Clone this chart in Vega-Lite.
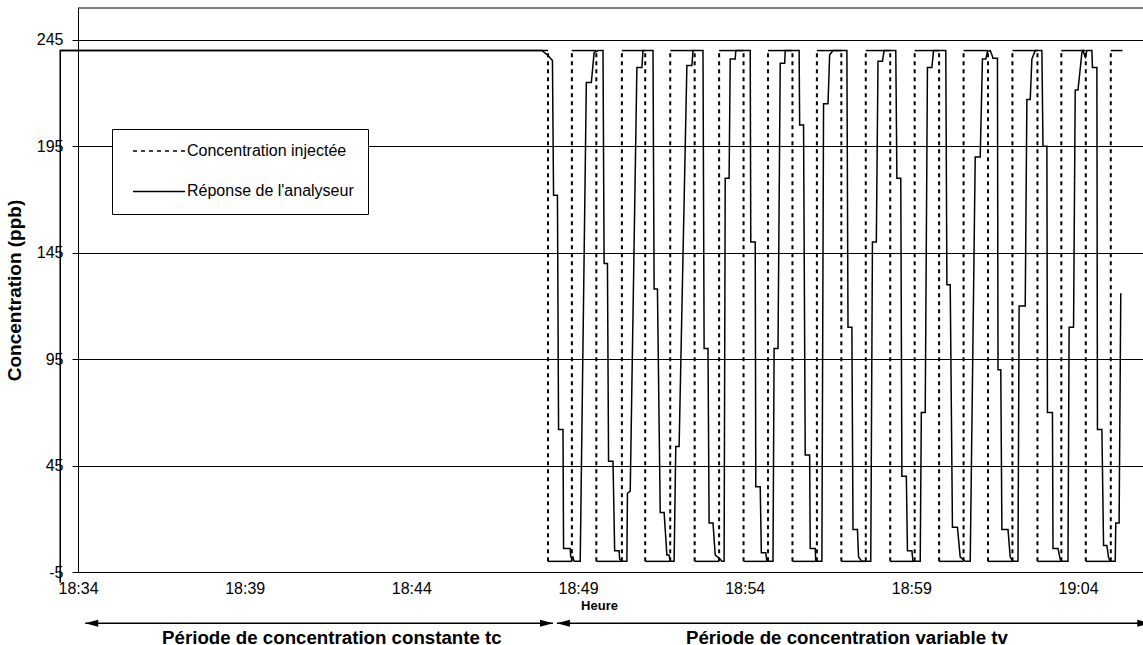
{
  "$schema": "https://vega.github.io/schema/vega-lite/v6.json",
  "width": 1065,
  "height": 564,
  "autosize": {"type": "none"},
  "padding": {"left": 78, "top": 8, "right": 0, "bottom": 73},
  "background": "#ffffff",
  "config": {
    "view": {"stroke": null},
    "font": "Liberation Sans",
    "axis": {"labelFont": "Liberation Sans", "titleFont": "Liberation Sans", "labelColor": "#000", "titleColor": "#000", "domainColor": "#000", "tickColor": "#000", "gridColor": "#000"},
    "legend": {"labelFont": "Liberation Sans"}
  },
  "layer": [
    {
      "data": {"values": [{}]},
      "mark": {"type": "rule", "color": "#000", "strokeWidth": 1},
      "encoding": {"y": {"datum": 260, "type": "quantitative", "scale": {"domain": [-5, 260], "nice": false, "zero": false}}}
    },
    {
      "data": {"values": [
        {"debut":"18:33:28","fin":"18:48:06","niveau":240},
        {"debut":"18:48:06","fin":"18:48:49","niveau":0},
        {"debut":"18:48:49","fin":"18:49:33","niveau":240},
        {"debut":"18:49:33","fin":"18:50:19","niveau":0},
        {"debut":"18:50:19","fin":"18:51:01","niveau":240},
        {"debut":"18:51:01","fin":"18:51:46","niveau":0},
        {"debut":"18:51:46","fin":"18:52:30","niveau":240},
        {"debut":"18:52:30","fin":"18:53:14","niveau":0},
        {"debut":"18:53:14","fin":"18:53:58","niveau":240},
        {"debut":"18:53:58","fin":"18:54:42","niveau":0},
        {"debut":"18:54:42","fin":"18:55:26","niveau":240},
        {"debut":"18:55:26","fin":"18:56:10","niveau":0},
        {"debut":"18:56:10","fin":"18:56:54","niveau":240},
        {"debut":"18:56:54","fin":"18:57:38","niveau":0},
        {"debut":"18:57:38","fin":"18:58:22","niveau":240},
        {"debut":"18:58:22","fin":"18:59:06","niveau":0},
        {"debut":"18:59:06","fin":"18:59:50","niveau":240},
        {"debut":"18:59:50","fin":"19:00:34","niveau":0},
        {"debut":"19:00:34","fin":"19:01:18","niveau":240},
        {"debut":"19:01:18","fin":"19:02:02","niveau":0},
        {"debut":"19:02:02","fin":"19:02:47","niveau":240},
        {"debut":"19:02:47","fin":"19:03:30","niveau":0},
        {"debut":"19:03:30","fin":"19:04:14","niveau":240},
        {"debut":"19:04:14","fin":"19:04:59","niveau":0},
        {"debut":"19:04:59","fin":"19:05:20","niveau":240}
      ], "format": {"parse": {"debut": "date:'%H:%M:%S'", "fin": "date:'%H:%M:%S'", "niveau": "number"}}},
      "layer": [
        {
          "mark": {"type": "rule", "color": "#000", "strokeWidth": 1.5},
          "encoding": {
            "x": {"field": "debut", "type": "temporal",
              "scale": {"domain": [{"year":1900,"month":1,"date":1,"hours":18,"minutes":34,"seconds":0},{"year":1900,"month":1,"date":1,"hours":19,"minutes":5,"seconds":57}]},
              "axis": {"orient": "bottom", "offset": -10,
                "values": [{"year":1900,"month":1,"date":1,"hours":18,"minutes":34},{"year":1900,"month":1,"date":1,"hours":18,"minutes":39},{"year":1900,"month":1,"date":1,"hours":18,"minutes":44},{"year":1900,"month":1,"date":1,"hours":18,"minutes":49},{"year":1900,"month":1,"date":1,"hours":18,"minutes":54},{"year":1900,"month":1,"date":1,"hours":18,"minutes":59},{"year":1900,"month":1,"date":1,"hours":19,"minutes":4}],
                "labels": false, "ticks": true, "tickSize": 5, "tickWidth": 1, "domain": true, "domainWidth": 1, "grid": false, "title": null}},
            "x2": {"field": "fin"},
            "y": {"field": "niveau", "type": "quantitative", "scale": {"domain": [-5, 260], "nice": false, "zero": false}}
          }
        },
        {
          "transform": [{"filter": "minutes(datum.debut) != 33"}],
          "mark": {"type": "rule", "color": "#000", "strokeWidth": 2},
          "encoding": {
            "x": {"field": "debut", "type": "temporal",
              "scale": {"domain": [{"year":1900,"month":1,"date":1,"hours":18,"minutes":34,"seconds":0},{"year":1900,"month":1,"date":1,"hours":19,"minutes":5,"seconds":57}]},
              "axis": null},
            "y": {"datum": 0, "type": "quantitative", "scale": {"domain": [-5, 260], "nice": false, "zero": false}},
            "y2": {"datum": 240},
            "strokeDash": {"datum": "Concentration injectée", "type": "nominal"}
          }
        }
      ]
    },
    {
      "data": {"values": [
        {"heure":"18:33:28","c":-10},
        {"heure":"18:33:28","c":240},
        {"heure":"18:47:55","c":240},
        {"heure":"18:48:05","c":237.9},
        {"heure":"18:48:14","c":235.3},
        {"heure":"18:48:16","c":172},
        {"heure":"18:48:23","c":172},
        {"heure":"18:48:25","c":62},
        {"heure":"18:48:33","c":62},
        {"heure":"18:48:34","c":6},
        {"heure":"18:48:46","c":6},
        {"heure":"18:48:47","c":2},
        {"heure":"18:48:51","c":2},
        {"heure":"18:48:53","c":0},
        {"heure":"18:49:04","c":0},
        {"heure":"18:49:15","c":225},
        {"heure":"18:49:24","c":225},
        {"heure":"18:49:29","c":239},
        {"heure":"18:49:36","c":240},
        {"heure":"18:49:45","c":240},
        {"heure":"18:49:47","c":140},
        {"heure":"18:49:53","c":140},
        {"heure":"18:49:55","c":47},
        {"heure":"18:50:03","c":47},
        {"heure":"18:50:06","c":5},
        {"heure":"18:50:14","c":5},
        {"heure":"18:50:15","c":1},
        {"heure":"18:50:19","c":0},
        {"heure":"18:50:28","c":0},
        {"heure":"18:50:29","c":32},
        {"heure":"18:50:34","c":33},
        {"heure":"18:50:46","c":232},
        {"heure":"18:50:55","c":232},
        {"heure":"18:50:57","c":240},
        {"heure":"18:51:15","c":240},
        {"heure":"18:51:17","c":128},
        {"heure":"18:51:23","c":128},
        {"heure":"18:51:28","c":23},
        {"heure":"18:51:35","c":23},
        {"heure":"18:51:40","c":3},
        {"heure":"18:51:44","c":3},
        {"heure":"18:51:46","c":0},
        {"heure":"18:51:53","c":0},
        {"heure":"18:51:56","c":54},
        {"heure":"18:52:02","c":54},
        {"heure":"18:52:16","c":233},
        {"heure":"18:52:25","c":233},
        {"heure":"18:52:27","c":240},
        {"heure":"18:52:45","c":240},
        {"heure":"18:52:47","c":100},
        {"heure":"18:52:54","c":100},
        {"heure":"18:52:56","c":18},
        {"heure":"18:53:03","c":18},
        {"heure":"18:53:07","c":3},
        {"heure":"18:53:16","c":1},
        {"heure":"18:53:19","c":0},
        {"heure":"18:53:23","c":0},
        {"heure":"18:53:25","c":180},
        {"heure":"18:53:32","c":180},
        {"heure":"18:53:34","c":236},
        {"heure":"18:53:43","c":236},
        {"heure":"18:53:44","c":240},
        {"heure":"18:54:10","c":240},
        {"heure":"18:54:11","c":150},
        {"heure":"18:54:19","c":150},
        {"heure":"18:54:20","c":35},
        {"heure":"18:54:28","c":35},
        {"heure":"18:54:30","c":4},
        {"heure":"18:54:38","c":4},
        {"heure":"18:54:40","c":0},
        {"heure":"18:54:51","c":0},
        {"heure":"18:54:53","c":100},
        {"heure":"18:55:00","c":100},
        {"heure":"18:55:04","c":234},
        {"heure":"18:55:12","c":234},
        {"heure":"18:55:13","c":240},
        {"heure":"18:55:38","c":240},
        {"heure":"18:55:39","c":205},
        {"heure":"18:55:46","c":205},
        {"heure":"18:55:49","c":50},
        {"heure":"18:55:57","c":50},
        {"heure":"18:55:58","c":6},
        {"heure":"18:56:07","c":6},
        {"heure":"18:56:08","c":0},
        {"heure":"18:56:19","c":0},
        {"heure":"18:56:22","c":215},
        {"heure":"18:56:30","c":215},
        {"heure":"18:56:33","c":238},
        {"heure":"18:56:39","c":240},
        {"heure":"18:57:04","c":240},
        {"heure":"18:57:06","c":110},
        {"heure":"18:57:13","c":110},
        {"heure":"18:57:15","c":15},
        {"heure":"18:57:23","c":15},
        {"heure":"18:57:25","c":2},
        {"heure":"18:57:31","c":0},
        {"heure":"18:57:47","c":0},
        {"heure":"18:57:50","c":150},
        {"heure":"18:57:57","c":150},
        {"heure":"18:58:00","c":235},
        {"heure":"18:58:08","c":235},
        {"heure":"18:58:11","c":240},
        {"heure":"18:58:32","c":240},
        {"heure":"18:58:34","c":180},
        {"heure":"18:58:41","c":180},
        {"heure":"18:58:43","c":40},
        {"heure":"18:58:51","c":40},
        {"heure":"18:58:53","c":5},
        {"heure":"18:59:01","c":5},
        {"heure":"18:59:03","c":0},
        {"heure":"18:59:16","c":0},
        {"heure":"18:59:18","c":70},
        {"heure":"18:59:25","c":70},
        {"heure":"18:59:29","c":232},
        {"heure":"18:59:37","c":232},
        {"heure":"18:59:40","c":240},
        {"heure":"19:00:02","c":240},
        {"heure":"19:00:04","c":130},
        {"heure":"19:00:10","c":130},
        {"heure":"19:00:14","c":16},
        {"heure":"19:00:23","c":16},
        {"heure":"19:00:28","c":2},
        {"heure":"19:00:33","c":1},
        {"heure":"19:00:37","c":0},
        {"heure":"19:00:46","c":0},
        {"heure":"19:00:55","c":190},
        {"heure":"19:01:04","c":190},
        {"heure":"19:01:08","c":236},
        {"heure":"19:01:14","c":236},
        {"heure":"19:01:17","c":239.5},
        {"heure":"19:01:22","c":240},
        {"heure":"19:01:25","c":238},
        {"heure":"19:01:27","c":236.4},
        {"heure":"19:01:35","c":236.4},
        {"heure":"19:01:36","c":90},
        {"heure":"19:01:41","c":90},
        {"heure":"19:01:43","c":15},
        {"heure":"19:01:54","c":15},
        {"heure":"19:01:58","c":2},
        {"heure":"19:02:03","c":0},
        {"heure":"19:02:12","c":0},
        {"heure":"19:02:14","c":120},
        {"heure":"19:02:25","c":120},
        {"heure":"19:02:28","c":217},
        {"heure":"19:02:34","c":217},
        {"heure":"19:02:37","c":236},
        {"heure":"19:02:43","c":240},
        {"heure":"19:02:55","c":240},
        {"heure":"19:02:57","c":195},
        {"heure":"19:03:04","c":195},
        {"heure":"19:03:05","c":70},
        {"heure":"19:03:14","c":70},
        {"heure":"19:03:15","c":6},
        {"heure":"19:03:24","c":6},
        {"heure":"19:03:28","c":1},
        {"heure":"19:03:31","c":0},
        {"heure":"19:03:42","c":0},
        {"heure":"19:03:44","c":110},
        {"heure":"19:03:52","c":110},
        {"heure":"19:03:55","c":221.5},
        {"heure":"19:04:00","c":221.5},
        {"heure":"19:04:07","c":239},
        {"heure":"19:04:09","c":240},
        {"heure":"19:04:13","c":237},
        {"heure":"19:04:16","c":240},
        {"heure":"19:04:25","c":240},
        {"heure":"19:04:26","c":232},
        {"heure":"19:04:34","c":232},
        {"heure":"19:04:35","c":62},
        {"heure":"19:04:43","c":62},
        {"heure":"19:04:46","c":7.5},
        {"heure":"19:04:52","c":7.5},
        {"heure":"19:04:55","c":1.8},
        {"heure":"19:04:58","c":0},
        {"heure":"19:05:07","c":0},
        {"heure":"19:05:08","c":18},
        {"heure":"19:05:14","c":18},
        {"heure":"19:05:17","c":126}
      ], "format": {"parse": {"heure": "date:'%H:%M:%S'"}}},
      "mark": {"type": "line", "color": "#000", "strokeWidth": 1.5},
      "encoding": {
        "x": {"field": "heure", "type": "temporal",
          "scale": {"domain": [{"year":1900,"month":1,"date":1,"hours":18,"minutes":34,"seconds":0},{"year":1900,"month":1,"date":1,"hours":19,"minutes":5,"seconds":57}]},
          "axis": {"orient": "bottom",
            "values": [{"year":1900,"month":1,"date":1,"hours":18,"minutes":34},{"year":1900,"month":1,"date":1,"hours":18,"minutes":39},{"year":1900,"month":1,"date":1,"hours":18,"minutes":44},{"year":1900,"month":1,"date":1,"hours":18,"minutes":49},{"year":1900,"month":1,"date":1,"hours":18,"minutes":54},{"year":1900,"month":1,"date":1,"hours":18,"minutes":59},{"year":1900,"month":1,"date":1,"hours":19,"minutes":4}],
            "format": "%H:%M", "ticks": false, "tickSize": 0, "grid": false, "domain": true, "domainWidth": 1,
            "labelFontSize": 16, "labelPadding": 8, "labelFlush": false, "labelOverlap": false,
            "title": "Heure", "titleFontSize": 13, "titleFontWeight": "bold", "titleX": 521, "titleY": 37, "titleAlign": "center", "titleBaseline": "alphabetic"}},
        "y": {"field": "c", "type": "quantitative", "scale": {"domain": [-5, 260], "nice": false, "zero": false},
          "axis": {"orient": "left", "values": [-5, 45, 95, 145, 195, 245], "labelExpr": "'' + datum.value", "grid": true, "gridWidth": 1, "domain": true, "domainWidth": 1,
            "ticks": true, "tickSize": 6, "tickWidth": 1, "labelFontSize": 16, "labelPadding": 9,
            "title": "Concentration (ppb)", "titleFontSize": 19, "titleFontWeight": "bold", "titleX": -64, "titleY": 282, "titleAngle": -90, "titleAlign": "center", "titleBaseline": "middle"}},
        "strokeDash": {"datum": "Réponse de l'analyseur", "type": "nominal",
          "scale": {"domain": ["Concentration injectée", "Réponse de l'analyseur"], "range": [[4, 4], [1, 0]]},
          "legend": {"orient": "none", "legendX": 34, "legendY": 121, "title": null,
            "symbolType": "M-4,0H4", "symbolSize": 169, "symbolStrokeWidth": 1.5, "symbolStrokeColor": "#000", "symbolFillColor": "transparent",
            "symbolOffset": 25, "labelOffset": 20, "labelFontSize": 16, "labelColor": "#000", "labelLimit": 0, "rowPadding": 24.4,
            "padding": 14, "strokeColor": "#000", "fillColor": "#fff", "cornerRadius": 0}}
      }
    },
    {
      "data": {"values": [
        {"debut":"18:34:13","fin":"18:48:15","milieu":"18:41:37","label":"Période de concentration constante tc"},
        {"debut":"18:48:22","fin":"19:06:10","milieu":"18:57:04","label":"Période de concentration variable tv"}
      ], "format": {"parse": {"debut": "date:'%H:%M:%S'", "fin": "date:'%H:%M:%S'", "milieu": "date:'%H:%M:%S'"}}},
      "layer": [
        {
          "mark": {"type": "rule", "color": "#000", "strokeWidth": 1.5},
          "encoding": {
            "x": {"field": "debut", "type": "temporal", "scale": {"domain": [{"year":1900,"month":1,"date":1,"hours":18,"minutes":34,"seconds":0},{"year":1900,"month":1,"date":1,"hours":19,"minutes":5,"seconds":57}]}, "axis": null},
            "x2": {"field": "fin"},
            "y": {"datum": -29.1, "type": "quantitative", "scale": {"domain": [-5, 260], "nice": false, "zero": false}}
          }
        },
        {
          "mark": {"type": "point", "shape": "M0,0L2,-0.55L2,0.55Z", "filled": true, "size": 169, "color": "#000", "opacity": 1, "strokeWidth": 0},
          "encoding": {
            "x": {"field": "debut", "type": "temporal", "scale": {"domain": [{"year":1900,"month":1,"date":1,"hours":18,"minutes":34,"seconds":0},{"year":1900,"month":1,"date":1,"hours":19,"minutes":5,"seconds":57}]}, "axis": null},
            "y": {"datum": -29.1, "type": "quantitative", "scale": {"domain": [-5, 260], "nice": false, "zero": false}}
          }
        },
        {
          "mark": {"type": "point", "shape": "M0,0L-2,-0.55L-2,0.55Z", "filled": true, "size": 169, "color": "#000", "opacity": 1, "strokeWidth": 0},
          "encoding": {
            "x": {"field": "fin", "type": "temporal", "scale": {"domain": [{"year":1900,"month":1,"date":1,"hours":18,"minutes":34,"seconds":0},{"year":1900,"month":1,"date":1,"hours":19,"minutes":5,"seconds":57}]}, "axis": null},
            "y": {"datum": -29.1, "type": "quantitative", "scale": {"domain": [-5, 260], "nice": false, "zero": false}}
          }
        },
        {
          "mark": {"type": "text", "font": "Liberation Sans", "fontSize": 18.7, "fontWeight": "bold", "align": "center", "baseline": "alphabetic", "color": "#000"},
          "encoding": {
            "x": {"field": "milieu", "type": "temporal", "scale": {"domain": [{"year":1900,"month":1,"date":1,"hours":18,"minutes":34,"seconds":0},{"year":1900,"month":1,"date":1,"hours":19,"minutes":5,"seconds":57}]}, "axis": null},
            "y": {"datum": -39.0, "type": "quantitative", "scale": {"domain": [-5, 260], "nice": false, "zero": false}},
            "text": {"field": "label"}
          }
        }
      ]
    }
  ],
  "resolve": {"axis": {"x": "independent"}}
}
